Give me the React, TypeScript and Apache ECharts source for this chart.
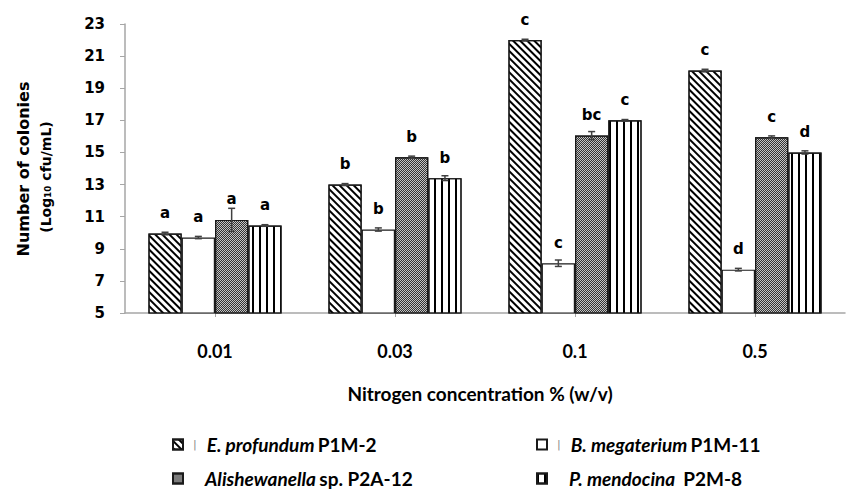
import React, { useEffect, useRef } from "react";
import * as echarts from "echarts";

const categories = ["0.01", "0.03", "0.1", "0.5"];
const seriesNames = ["E. profundum P1M-2", "B. megaterium P1M-11", "Alishewanella sp. P2A-12", "P. mendocina P2M-8"];
const eProfundum = [9.95, 13.0, 22.0, 20.1];
const bMegaterium = [9.7, 10.2, 8.1, 7.7];
const alishewanella = [10.8, 14.7, 16.05, 15.95];
const pMendocina = [10.45, 13.4, 17.0, 15.0];
const eProfundumErr = [0.08, 0.06, 0.05, 0.08];
const bMegateriumErr = [0.07, 0.1, 0.2, 0.08];
const alishewanellaErr = [0.72, 0.07, 0.25, 0.08];
const pMendocinaErr = [0.05, 0.15, 0.05, 0.1];
const eProfundumLetters = ["a", "b", "c", "c"];
const bMegateriumLetters = ["a", "b", "c", "d"];
const alishewanellaLetters = ["a", "b", "bc", "c"];
const pMendocinaLetters = ["a", "b", "c", "d"];
const yTicks = { min: 5, max: 23, interval: 2 };

const values = [eProfundum, bMegaterium, alishewanella, pMendocina];
const errors = [eProfundumErr, bMegateriumErr, alishewanellaErr, pMendocinaErr];
const letters = [eProfundumLetters, bMegateriumLetters, alishewanellaLetters, pMendocinaLetters];
const CAT_GAP = 0.26;

const decals: any[] = [
  { symbol: "rect", symbolSize: 1, color: "#000", dashArrayX: [1, 0], dashArrayY: [1.2, 2.8], rotation: Math.PI / 4 },
  null,
  { symbol: "rect", symbolSize: 1, color: "#333", dashArrayX: [[1, 1], [0, 1, 1, 0]], dashArrayY: [1, 0], rotation: 0 },
  { symbol: "rect", symbolSize: 1, color: "#000", dashArrayX: [1.8, 4.8], dashArrayY: [1, 0], rotation: 0 },
];
const fills = ["#ffffff", "#ffffff", "#c4c4c4", "#ffffff"];

const legendRich = {
  i: { fontFamily: "Lato", fontWeight: "bold", fontStyle: "italic", fontSize: 19, color: "#000" },
  n: { fontFamily: "Lato", fontWeight: "bold", fontSize: 19, color: "#000" },
  g: { fontFamily: "DejaVu Sans", fontSize: 11, color: "#888", padding: [0, 0, 0, 5] },
  sp: { width: 10 },
  sp2: { width: 17 },
};

function legendFormatter(name: string) {
  switch (name) {
    case seriesNames[0]:
      return "{g||}{sp|}{i|E. profundum} {n|P1M-2}";
    case seriesNames[1]:
      return "{g||}{sp|}{i|B. megaterium} {n|P1M-11}";
    case seriesNames[2]:
      return "{sp2|}{i|Alishewanella} {n|sp. P2A-12}";
    default:
      return "{sp2|}{i|P. mendocina} {n| P2M-8}";
  }
}

const legendPos = [
  { left: 172, top: 435 },
  { left: 536, top: 435 },
  { left: 172, top: 469 },
  { left: 536, top: 469 },
];

export default function App() {
  const ref = useRef<HTMLDivElement>(null);
  useEffect(() => {
    if (!ref.current) return;
    const chart = echarts.init(ref.current, null, { renderer: "svg" });
    const errData: any[] = [];
    values.forEach((arr, si) => arr.forEach((v, ci) => errData.push([ci, v, errors[si][ci], si])));

    const barSeries = values.map((arr, si) => ({
      name: seriesNames[si],
      type: "bar",
      data: arr,
      barGap: "0%",
      barCategoryGap: CAT_GAP * 100 + "%",
      itemStyle: { color: fills[si], borderColor: "#1a1a1a", borderWidth: 1.2, decal: decals[si] || undefined },
      label: {
        show: true,
        position: "top",
        distance: 13,
        formatter: (p: any) => letters[si][p.dataIndex],
        fontFamily: "DejaVu Sans",
        fontWeight: "bold",
        fontSize: 15,
        color: "#000",
      },
    }));

    const option: any = {
      animation: false,
      aria: { enabled: false },
      grid: { left: 125, right: 2, top: 24, bottom: 178 },
      xAxis: {
        type: "category",
        data: categories,
        boundaryGap: true,
        axisLine: { lineStyle: { color: "#a6a6a6", width: 1.5 } },
        axisTick: { show: true, alignWithLabel: true, length: 4, lineStyle: { color: "#a6a6a6" } },
        axisLabel: { margin: 29, fontFamily: "Lato", fontWeight: "bold", fontSize: 18, color: "#000" },
        name: "Nitrogen concentration % (w/v)",
        nameLocation: "middle",
        nameGap: 71,
        nameTextStyle: { fontFamily: "Lato", fontWeight: "bold", fontSize: 19, color: "#000", padding: [0, 10, 0, 0] },
      },
      yAxis: {
        type: "value",
        min: yTicks.min,
        max: yTicks.max,
        interval: yTicks.interval,
        splitLine: { show: false },
        axisLine: { show: true, lineStyle: { color: "#a6a6a6", width: 1.5 } },
        axisTick: { show: true, length: 5, lineStyle: { color: "#a6a6a6" } },
        axisLabel: { margin: 20, fontFamily: "DejaVu Sans", fontWeight: "bold", fontSize: 15, color: "#000" },
      },
      legend: seriesNames.map((n, i) => ({
        data: [n],
        left: legendPos[i].left,
        top: legendPos[i].top,
        padding: 0,
        itemWidth: 10,
        itemHeight: 10,
        icon: "rect",
        formatter: legendFormatter,
        textStyle: { rich: legendRich },
        selectedMode: false,
      })),
      graphic: [
        {
          type: "text",
          x: 23,
          y: 169,
          rotation: Math.PI / 2,
          style: {
            text: "Number of colonies",
            fontFamily: "DejaVu Sans",
            fontWeight: "bold",
            fontSize: 16,
            fill: "#000",
            align: "center",
            verticalAlign: "middle",
          },
        },
        {
          type: "text",
          x: 46,
          y: 177,
          rotation: Math.PI / 2,
          style: {
            text: "(Log\u2081\u2080 cfu/mL)",
            fontFamily: "DejaVu Sans",
            fontWeight: "bold",
            fontSize: 14,
            fill: "#000",
            align: "center",
            verticalAlign: "middle",
          },
        },
      ],
      series: [
        ...barSeries,
        {
          type: "custom",
          name: "errors",
          z: 5,
          data: errData,
          encode: { x: 0, y: 1 },
          renderItem: (params: any, api: any) => {
            const ci = api.value(0);
            const v = api.value(1);
            const e = api.value(2);
            const si = api.value(3);
            const band = api.size([1, 0])[0];
            const barW = (band * (1 - CAT_GAP)) / 4;
            const c = api.coord([ci, v]);
            const x = c[0] + (si - 1.5) * barW;
            const top = api.coord([ci, v + e])[1];
            const bot = api.coord([ci, v - e])[1];
            const cap = 3.5;
            const st = { stroke: "#404040", lineWidth: 1.5 };
            return {
              type: "group",
              children: [
                { type: "line", shape: { x1: x, y1: top, x2: x, y2: bot }, style: st },
                { type: "line", shape: { x1: x - cap, y1: top, x2: x + cap, y2: top }, style: st },
                { type: "line", shape: { x1: x - cap, y1: bot, x2: x + cap, y2: bot }, style: st },
              ],
            };
          },
        },
      ],
    };
    chart.setOption(option);
    return () => chart.dispose();
  }, []);
  return <div ref={ref} style={{ position: "absolute", left: 0, top: 0, width: 847, height: 491 }} />;
}
